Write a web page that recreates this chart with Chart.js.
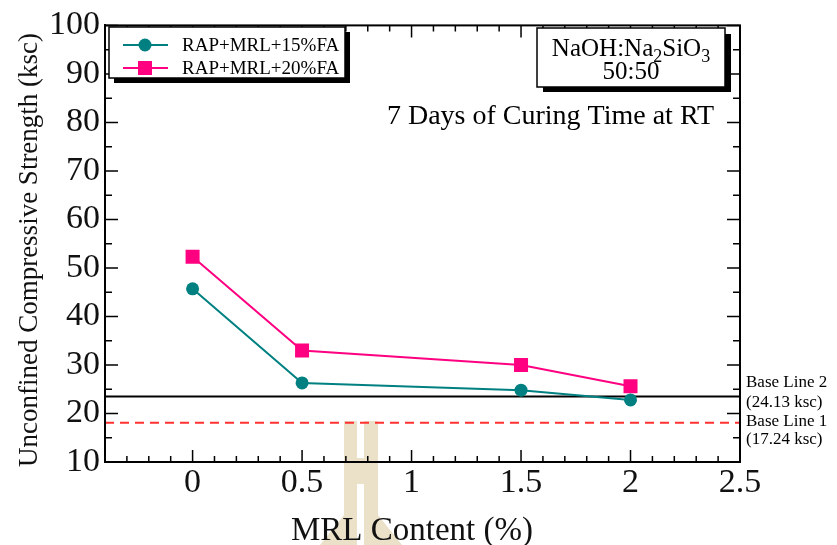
<!DOCTYPE html>
<html>
<head>
<meta charset="utf-8">
<script src="https://cdn.jsdelivr.net/npm/chart.js@4/dist/chart.umd.min.js"></script>
<style>
  html, body { margin: 0; padding: 0; background: #fff; }
</style>
</head>
<body>
<canvas id="myChart" width="837" height="545"></canvas>
<script>
// Data
  const mrlContent = [0, 0.5, 1.5, 2];
  const ucs15FA = [45.7, 26.3, 24.8, 22.8];
  const ucs20FA = [52.3, 33.0, 30.0, 25.6];

  const baseLine2Level = 23.5;
  const baseLine1Level = 18.1;
  const baseLine2Text = ['Base Line 2', '(24.13 ksc)'];
  const baseLine1Text = ['Base Line 1', '(17.24 ksc)'];

  const xTicks = [0, 0.5, 1, 1.5, 2, 2.5];
  const yTicks = [10, 20, 30, 40, 50, 60, 70, 80, 90, 100];
  const xMin = -0.4, xMax = 2.5;
  const yMin = 10, yMax = 100;

  const serif = "'Liberation Serif', 'Times New Roman', serif";
  const teal = 'rgb(0, 128, 128)';
  const pink = 'rgb(255, 0, 128)';

  function pts(xs, ys) {
    return xs.map((x, i) => ({ x: x, y: ys[i] }));
  }

// Extra drawing: ticks, frame, legend, boxes, titles
  const decor = {
    id: 'decor',
    beforeDraw(chart) {
      // faint logo watermark behind everything
      const ctx = chart.ctx;
      ctx.save();
      ctx.fillStyle = 'rgb(235, 224, 200)';
      ctx.fillRect(344, 421, 13, 40);
      ctx.fillRect(364, 421, 14, 40);
      ctx.fillRect(344, 458, 34, 26);
      ctx.beginPath();
      ctx.moveTo(344, 484); ctx.lineTo(357, 484); ctx.lineTo(357, 545); ctx.lineTo(320, 545); ctx.lineTo(344, 515);
      ctx.closePath(); ctx.fill();
      ctx.beginPath();
      ctx.moveTo(364, 484); ctx.lineTo(378, 484); ctx.lineTo(378, 515); ctx.lineTo(402, 545); ctx.lineTo(364, 545);
      ctx.closePath(); ctx.fill();
      ctx.restore();
    },
    afterDraw(chart) {
      const ctx = chart.ctx;
      const a = chart.chartArea;
      const x = chart.scales.x, y = chart.scales.y;
      ctx.save();

      // frame
      ctx.strokeStyle = '#000';
      ctx.lineWidth = 2;
      ctx.strokeRect(a.left, a.top, a.right - a.left, a.bottom - a.top);

      // inward ticks
      ctx.lineWidth = 1.5;
      ctx.beginPath();
      for (let v = yMin; v <= yMax; v += 5) {
        const py = y.getPixelForValue(v);
        const len = v % 10 === 0 ? 13 : 7;
        ctx.moveTo(a.left, py); ctx.lineTo(a.left + len, py);
        ctx.moveTo(a.right, py); ctx.lineTo(a.right - len, py);
      }
      for (let i = Math.round(xMin * 10); i <= Math.round(xMax * 10); i++) {
        const px = x.getPixelForValue(i / 10);
        const len = i % 5 === 0 ? 12 : 6;
        ctx.moveTo(px, a.bottom); ctx.lineTo(px, a.bottom - len);
        ctx.moveTo(px, a.top); ctx.lineTo(px, a.top + len);
      }
      ctx.stroke();

      // legend box with shadow
      const ds = chart.data.datasets;
      ctx.fillStyle = '#000';
      ctx.fillRect(114, 32, 236, 51);
      ctx.fillStyle = '#fff';
      ctx.fillRect(109, 27, 236, 51);
      ctx.lineWidth = 1.5;
      ctx.strokeRect(109, 27, 236, 51);
      [0, 1].forEach(k => {
        const cy = 45 + k * 23;
        ctx.strokeStyle = ds[k].borderColor;
        ctx.lineWidth = 2;
        ctx.beginPath(); ctx.moveTo(123, cy); ctx.lineTo(168, cy); ctx.stroke();
        ctx.fillStyle = ds[k].backgroundColor;
        if (k === 0) {
          ctx.beginPath(); ctx.arc(145, cy, 6.5, 0, Math.PI * 2); ctx.fill();
        } else {
          ctx.fillRect(138, cy - 7, 14, 14);
        }
        ctx.fillStyle = '#000';
        ctx.font = '19px ' + serif;
        ctx.textBaseline = 'middle';
        ctx.textAlign = 'left';
        ctx.fillText(ds[k].label, 182, cy + 1);
      });

      // activator ratio box
      ctx.fillStyle = '#000';
      ctx.fillRect(543, 34, 188, 58);
      ctx.fillStyle = '#fff';
      ctx.fillRect(537, 28, 188, 59);
      ctx.strokeStyle = '#000';
      ctx.lineWidth = 1.5;
      ctx.strokeRect(537, 28, 188, 59);
      ctx.fillStyle = '#000';
      ctx.textBaseline = 'alphabetic';
      ctx.textAlign = 'left';
      const parts = [['NaOH:Na', 25, 0], ['2', 18, 6], ['SiO', 25, 0], ['3', 18, 6]];
      let w = 0;
      parts.forEach(p => { ctx.font = p[1] + 'px ' + serif; w += ctx.measureText(p[0]).width; });
      let tx = 631 - w / 2;
      parts.forEach(p => {
        ctx.font = p[1] + 'px ' + serif;
        ctx.fillText(p[0], tx, 56 + p[2]);
        tx += ctx.measureText(p[0]).width;
      });
      ctx.font = '25px ' + serif;
      ctx.textAlign = 'center';
      ctx.fillText('50:50', 631, 79);

      // curing note
      ctx.font = '28px ' + serif;
      ctx.textAlign = 'right';
      ctx.fillText('7 Days of Curing Time at RT', 714, 124);

      // base line notes
      ctx.font = '17px ' + serif;
      ctx.textAlign = 'left';
      ctx.textBaseline = 'middle';
      const b2 = y.getPixelForValue(baseLine2Level);
      const b1 = y.getPixelForValue(baseLine1Level);
      ctx.fillText(baseLine2Text[0], 746, b2 - 14);
      ctx.fillText(baseLine2Text[1], 746, b2 + 6);
      ctx.fillText(baseLine1Text[0], 746, b1 - 1);
      ctx.fillText(baseLine1Text[1], 746, b1 + 17);

      // axis titles
      ctx.fillStyle = '#111';
      ctx.textBaseline = 'alphabetic';
      ctx.textAlign = 'center';
      ctx.font = '33px ' + serif;
      ctx.fillText('MRL Content (%)', 412, 540);
      ctx.translate(37, 250);
      ctx.rotate(-Math.PI / 2);
      ctx.font = '27px ' + serif;
      ctx.fillText('Unconfined Compressive Strength (ksc)', 0, 0);

      ctx.restore();
    }
  };

// Config
  const config = {
    type: 'scatter',
    data: {
      datasets: [{
        label: 'RAP+MRL+15%FA',
        data: pts(mrlContent, ucs15FA),
        showLine: true,
        borderColor: teal,
        backgroundColor: teal,
        borderWidth: 2,
        pointStyle: 'circle',
        pointRadius: 6.5,
        pointBorderWidth: 0,
      }, {
        label: 'RAP+MRL+20%FA',
        data: pts(mrlContent, ucs20FA),
        showLine: true,
        borderColor: pink,
        backgroundColor: pink,
        borderWidth: 2,
        pointStyle: 'rect',
        pointRadius: 9.9,
        pointBorderWidth: 0,
      }, {
        label: 'Base Line 2',
        data: pts([xMin, xMax], [baseLine2Level, baseLine2Level]),
        showLine: true,
        borderColor: '#000',
        borderWidth: 2,
        pointRadius: 0,
      }, {
        label: 'Base Line 1',
        data: pts([xMin, xMax], [baseLine1Level, baseLine1Level]),
        showLine: true,
        borderColor: 'rgb(255, 50, 50)',
        borderDash: [9, 6],
        borderWidth: 2,
        pointRadius: 0,
      }]
    },
    options: {
      responsive: false,
      animation: false,
      layout: { padding: { top: 23, right: 97, left: 0, bottom: 0 } },
      plugins: {
        legend: { display: false },
        tooltip: { enabled: false }
      },
      scales: {
        x: {
          type: 'linear',
          min: xMin,
          max: xMax,
          grid: { display: false, drawTicks: false },
          border: { display: true, color: '#000', width: 2 },
          ticks: {
            color: '#111',
            font: { size: 34, family: serif },
            padding: 1,
            maxRotation: 0,
            autoSkip: false,
            callback: v => String(v)
          },
          afterBuildTicks: s => { s.ticks = xTicks.map(v => ({ value: v })); },
          afterFit: s => { s.height = 83; }
        },
        y: {
          type: 'linear',
          min: yMin,
          max: yMax,
          grid: { display: false, drawTicks: false },
          border: { display: true, color: '#000', width: 2 },
          ticks: {
            color: '#111',
            font: { size: 34, family: serif },
            padding: 5,
            autoSkip: false,
            callback: v => String(v)
          },
          afterBuildTicks: s => { s.ticks = yTicks.map(v => ({ value: v })); },
          afterFit: s => { s.width = 105; }
        }
      }
    },
    plugins: [decor]
  };

  const myChart = new Chart(document.getElementById('myChart'), config);
</script>
</body>
</html>
